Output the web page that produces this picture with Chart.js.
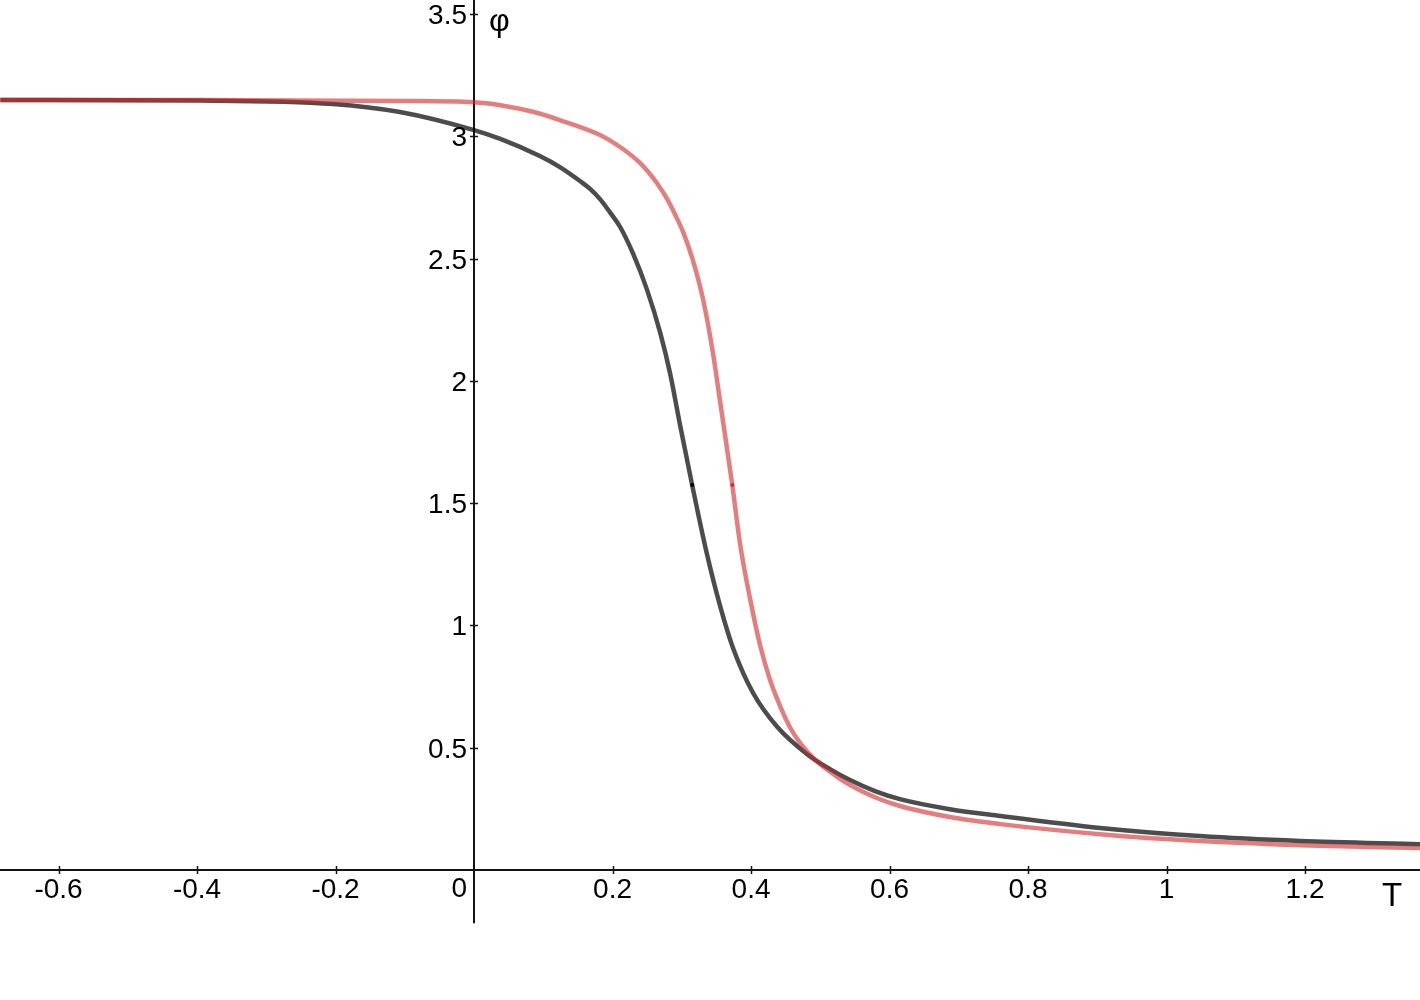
<!DOCTYPE html>
<html>
<head>
<meta charset="utf-8">
<title>φ(T)</title>
<script src="https://cdn.jsdelivr.net/npm/chart.js@4.4.1/dist/chart.umd.min.js"></script>
<style>
    html, body { margin: 0; padding: 0; background: #ffffff; }
    #wrap { width: 1420px; height: 1000px; position: relative; }
</style>
</head>
<body>
<div id="wrap"><canvas id="phiChart" width="1420" height="1000"></canvas></div>
<script>
// values
const tDark = [-0.684, -0.396, -0.204, -0.107, 0, 0.038, 0.095, 0.124, 0.153, 0.168, 0.182, 0.196, 0.211, 0.230, 0.250, 0.269, 0.283, 0.297, 0.315, 0.336, 0.355, 0.374, 0.403, 0.438, 0.481, 0.514, 0.543, 0.579, 0.615, 0.687, 0.760, 0.904, 1.048, 1.193, 1.366];
const phiDark = [3.148, 3.146, 3.132, 3.099, 3.025, 2.989, 2.919, 2.874, 2.817, 2.784, 2.743, 2.690, 2.629, 2.518, 2.371, 2.195, 2.032, 1.827, 1.574, 1.296, 1.083, 0.908, 0.724, 0.585, 0.474, 0.413, 0.368, 0.323, 0.290, 0.249, 0.221, 0.172, 0.139, 0.119, 0.106];

const tRed = [-0.684, -0.396, -0.107, 0, 0.038, 0.085, 0.124, 0.182, 0.211, 0.240, 0.264, 0.279, 0.290, 0.302, 0.316, 0.331, 0.345, 0.355, 0.365, 0.373, 0.384, 0.399, 0.413, 0.427, 0.442, 0.456, 0.471, 0.490, 0.507, 0.529, 0.543, 0.579, 0.615, 0.687, 0.760, 0.904, 1.048, 1.193, 1.366];
const phiRed = [3.148, 3.148, 3.144, 3.139, 3.127, 3.100, 3.066, 3.005, 2.956, 2.890, 2.809, 2.743, 2.682, 2.608, 2.494, 2.330, 2.114, 1.922, 1.729, 1.574, 1.337, 1.104, 0.920, 0.781, 0.670, 0.585, 0.519, 0.458, 0.417, 0.372, 0.348, 0.298, 0.262, 0.217, 0.188, 0.147, 0.119, 0.102, 0.090];

// the small dot on each curve sits at phi = pi/2
const markDark = 18;
const markRed = 19;

const xTicks = [-0.6, -0.4, -0.2, 0.2, 0.4, 0.6, 0.8, 1, 1.2];
const xTickLabels = ['-0.6', '-0.4', '-0.2', '0.2', '0.4', '0.6', '0.8', '1', '1.2'];
const yTicks = [0.5, 1, 1.5, 2, 2.5, 3, 3.5];
const yTickLabels = ['0.5', '1', '1.5', '2', '2.5', '3', '3.5'];

const xLabel = 'T';
const yLabel = 'φ';

const FONT = '"Liberation Sans", Arial, sans-serif';

function toPoints(xs, ys) {
    return xs.map((v, i) => ({ x: v, y: ys[i] }));
}

// GeoGebra style axes through the origin
const geoAxes = {
    id: 'geoAxes',
    beforeDatasetsDraw(chart) {
        const ctx = chart.ctx;
        const xs = chart.scales.x;
        const ys = chart.scales.y;
        const x0 = Math.round(xs.getPixelForValue(0));
        const y0 = Math.round(ys.getPixelForValue(0));
        const yEnd = ys.getPixelForValue(-0.217);

        ctx.save();
        ctx.strokeStyle = '#141414';
        ctx.lineWidth = 2;
        ctx.beginPath();
        ctx.moveTo(0, y0);
        ctx.lineTo(chart.width, y0);
        ctx.moveTo(x0, 0);
        ctx.lineTo(x0, yEnd);
        ctx.stroke();

        ctx.lineWidth = 1.5;
        ctx.beginPath();
        xTicks.forEach(v => {
            const px = Math.round(xs.getPixelForValue(v)) + 0.5;
            ctx.moveTo(px, y0 - 4);
            ctx.lineTo(px, y0 + 4);
        });
        yTicks.forEach(v => {
            const py = Math.round(ys.getPixelForValue(v)) + 0.5;
            ctx.moveTo(x0 - 4, py);
            ctx.lineTo(x0 + 4, py);
        });
        ctx.stroke();

        ctx.fillStyle = '#000000';
        ctx.font = '28px ' + FONT;
        ctx.textBaseline = 'alphabetic';
        ctx.textAlign = 'center';
        xTicks.forEach((v, i) => {
            ctx.fillText(xTickLabels[i], xs.getPixelForValue(v), y0 + 28);
        });
        ctx.textAlign = 'right';
        yTicks.forEach((v, i) => {
            ctx.fillText(yTickLabels[i], x0 - 7, ys.getPixelForValue(v) + 10);
        });
        ctx.fillText('0', x0 - 7, y0 + 27);

        ctx.textAlign = 'left';
        ctx.font = '32px ' + FONT;
        ctx.fillText(yLabel, x0 + 15, 31);
        ctx.font = '33px ' + FONT;
        ctx.fillText(xLabel, chart.width - 38, y0 + 36);
        ctx.restore();
    }
};

function init() {
    const canvas = document.getElementById('phiChart');

    new Chart(canvas, {
        type: 'scatter',
        data: {
            datasets: [
                {
                    label: 'red',
                    data: toPoints(tRed, phiRed),
                    showLine: true,
                    borderColor: 'rgba(210, 40, 40, 0.6)',
                    backgroundColor: 'rgba(190, 30, 30, 0.8)',
                    borderWidth: 4.5,
                    cubicInterpolationMode: 'monotone',
                    pointRadius: c => (c.index === markRed ? 2 : 0),
                    pointBorderWidth: 0,
                    order: 0
                },
                {
                    label: 'dark',
                    data: toPoints(tDark, phiDark),
                    showLine: true,
                    borderColor: 'rgba(0, 0, 0, 0.7)',
                    backgroundColor: '#000000',
                    borderWidth: 4.5,
                    cubicInterpolationMode: 'monotone',
                    pointRadius: c => (c.index === markDark ? 2 : 0),
                    pointBorderWidth: 0,
                    order: 1
                }
            ]
        },
        options: {
            responsive: false,
            animation: false,
            devicePixelRatio: 1,
            layout: { padding: 0 },
            plugins: {
                legend: { display: false },
                tooltip: { enabled: false }
            },
            scales: {
                x: { type: 'linear', min: -0.6845, max: 1.366, display: false },
                y: { type: 'linear', min: -0.531, max: 3.557, display: false }
            }
        },
        plugins: [geoAxes]
    });
}

document.addEventListener('DOMContentLoaded', init);
</script>
</body>
</html>
